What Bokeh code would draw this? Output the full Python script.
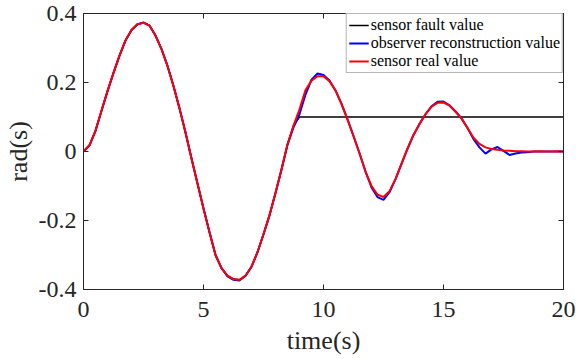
from bokeh.plotting import figure
from bokeh.models import LinearAxis, Range1d, FixedTicker, Legend, LegendItem
from bokeh.embed import file_html
from bokeh.resources import INLINE

# ---- data ----
t = [0.00, 0.25, 0.50, 0.75, 1.00, 1.25, 1.50, 1.75, 2.00, 2.25,
     2.50, 2.75, 3.00, 3.25, 3.50, 3.75, 4.00, 4.25, 4.50, 4.75,
     5.00, 5.25, 5.50, 5.75, 6.00, 6.25, 6.50, 6.75, 7.00, 7.25,
     7.50, 7.75, 8.00, 8.25, 8.50, 8.75, 9.00, 9.25, 9.50, 9.75,
     10.00, 10.25, 10.50, 10.75, 11.00, 11.25, 11.50, 11.75, 12.00, 12.25,
     12.50, 12.75, 13.00, 13.25, 13.50, 13.75, 14.00, 14.25, 14.50, 14.75,
     15.00, 15.25, 15.50, 15.75, 16.00, 16.25, 16.50, 16.75, 17.00, 17.25,
     17.50, 17.75, 18.00, 18.25, 18.50, 18.75, 19.00, 19.25, 19.50, 19.75,
     20.00]

real_value = [0.000, 0.018, 0.060, 0.118, 0.175, 0.228, 0.278, 0.322, 0.352, 0.369,
              0.373, 0.365, 0.336, 0.297, 0.248, 0.190, 0.125, 0.055, -0.020, -0.093,
              -0.165, -0.234, -0.300, -0.338, -0.360, -0.370, -0.372, -0.360, -0.334, -0.292,
              -0.240, -0.185, -0.120, -0.052, 0.020, 0.075, 0.122, 0.178, 0.205, 0.218,
              0.218, 0.204, 0.177, 0.138, 0.093, 0.045, -0.005, -0.058, -0.100, -0.125,
              -0.132, -0.115, -0.080, -0.036, 0.008, 0.048, 0.080, 0.108, 0.130, 0.141,
              0.142, 0.133, 0.116, 0.096, 0.068, 0.040, 0.022, 0.012, 0.007, 0.005,
              0.003, 0.002, 0.001, 0.001, 0.000, 0.000, 0.001, 0.000, 0.000, 0.001,
              0.000]

observer_value = [0.000, 0.018, 0.060, 0.118, 0.175, 0.228, 0.278, 0.322, 0.352, 0.369,
                  0.374, 0.365, 0.336, 0.297, 0.248, 0.190, 0.125, 0.055, -0.020, -0.093,
                  -0.165, -0.234, -0.300, -0.338, -0.362, -0.372, -0.374, -0.360, -0.334, -0.292,
                  -0.240, -0.185, -0.120, -0.052, 0.020, 0.070, 0.108, 0.165, 0.208, 0.226,
                  0.222, 0.206, 0.177, 0.138, 0.093, 0.045, -0.005, -0.058, -0.104, -0.132,
                  -0.140, -0.118, -0.080, -0.036, 0.008, 0.048, 0.080, 0.108, 0.131, 0.144,
                  0.145, 0.134, 0.116, 0.096, 0.068, 0.036, 0.012, -0.006, 0.006, 0.013,
                  0.002, -0.010, -0.006, -0.003, -0.002, 0.000, 0.000, 0.000, 0.000, 0.000,
                  0.000]

fault_value = [0.000, 0.018, 0.060, 0.118, 0.175, 0.228, 0.278, 0.322, 0.352, 0.369,
               0.373, 0.365, 0.336, 0.297, 0.248, 0.190, 0.125, 0.055, -0.020, -0.093,
               -0.165, -0.234, -0.300, -0.338, -0.360, -0.370, -0.372, -0.360, -0.334, -0.292,
               -0.240, -0.185, -0.120, -0.052, 0.020, 0.075, 0.100, 0.100, 0.100, 0.100,
               0.100, 0.100, 0.100, 0.100, 0.100, 0.100, 0.100, 0.100, 0.100, 0.100,
               0.100, 0.100, 0.100, 0.100, 0.100, 0.100, 0.100, 0.100, 0.100, 0.100,
               0.100, 0.100, 0.100, 0.100, 0.100, 0.100, 0.100, 0.100, 0.100, 0.100,
               0.100, 0.100, 0.100, 0.100, 0.100, 0.100, 0.100, 0.100, 0.100, 0.100,
               0.100]

x_ticks = [0, 5, 10, 15, 20]
y_ticks = [-0.4, -0.2, 0, 0.2, 0.4]
y_tick_labels = ["-0.4", "-0.2", "0", "0.2", "0.4"]
series_names = ["sensor fault value", "observer reconstruction value", "sensor real value"]

FONT = "Liberation Serif"
QFONT = '"Liberation Serif"'
AX = "#262626"

p = figure(width=576, height=359, output_backend="svg", toolbar_location=None,
           x_range=Range1d(0, 20), y_range=Range1d(-0.4, 0.4),
           min_border_left=80, min_border_right=13, min_border_top=13,
           min_border_bottom=70, background_fill_color="white",
           border_fill_color="white")
p.grid.visible = False
p.outline_line_color = AX
p.outline_line_width = 1

r_fault = p.line(t, fault_value, line_color="black", line_width=1.6)
r_obs = p.line(t, observer_value, line_color="#0000ff", line_width=2)
r_real = p.line(t, real_value, line_color="#ff0000", line_width=2)

def style(ax):
    ax.axis_line_color = AX
    ax.major_tick_line_color = AX
    ax.major_tick_in = 5
    ax.major_tick_out = 0
    ax.minor_tick_line_color = None
    ax.major_label_text_font = QFONT
    ax.major_label_text_color = AX
    ax.axis_label_text_font = FONT
    ax.axis_label_text_font_style = "normal"
    ax.axis_label_text_color = AX

xa = p.xaxis[0]
xa.ticker = FixedTicker(ticks=x_ticks)
xa.axis_label = "time(s)"
style(xa)
xa.major_label_text_font_size = "24px"
xa.axis_label_text_font_size = "26px"
xa.major_label_text_line_height = 1.0
xa.axis_label_text_line_height = 1.0
xa.major_label_standoff = 12
xa.axis_label_standoff = 6

ya = p.yaxis[0]
ya.ticker = FixedTicker(ticks=y_ticks)
ya.major_label_overrides = {v: s for v, s in zip(y_ticks, y_tick_labels)}
ya.axis_label = "rad(s)"
style(ya)
ya.major_label_text_font_size = "24px"
ya.axis_label_text_font_size = "26px"
ya.major_label_standoff = 7
ya.axis_label_standoff = 3

top = LinearAxis(ticker=FixedTicker(ticks=x_ticks))
style(top)
top.major_label_overrides = {v: "" for v in x_ticks}
top.major_label_standoff = 0
top.major_label_text_font_size = "1px"
p.add_layout(top, "above")
right = LinearAxis(ticker=FixedTicker(ticks=y_ticks))
style(right)
right.major_label_overrides = {v: "" for v in y_ticks}
right.major_label_standoff = 0
right.major_label_text_font_size = "1px"
p.add_layout(right, "right")

legend = Legend(items=[LegendItem(label=series_names[0], renderers=[r_fault]),
                       LegendItem(label=series_names[1], renderers=[r_obs]),
                       LegendItem(label=series_names[2], renderers=[r_real])],
                location="top_right", margin=0, padding=2, spacing=0,
                label_height=18, glyph_height=18, glyph_width=20,
                label_standoff=2, label_text_font=QFONT,
                label_text_font_size="16px", label_text_color="black",
                label_text_line_height=1.0,
                border_line_color="#6e6e6e", border_line_width=1,
                background_fill_color="white", background_fill_alpha=1)
p.add_layout(legend)

open("out.html", "w").write(file_html(p, INLINE))
